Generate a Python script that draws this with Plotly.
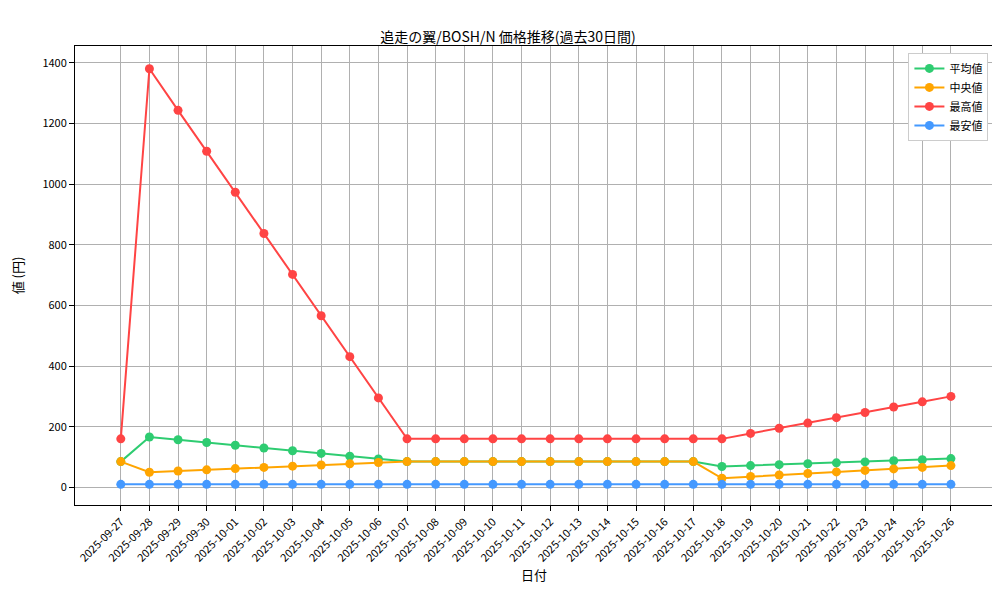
import plotly.graph_objects as go

dates = ["2025-09-27","2025-09-28","2025-09-29","2025-09-30","2025-10-01","2025-10-02","2025-10-03","2025-10-04","2025-10-05","2025-10-06","2025-10-07","2025-10-08","2025-10-09","2025-10-10","2025-10-11","2025-10-12","2025-10-13","2025-10-14","2025-10-15","2025-10-16","2025-10-17","2025-10-18","2025-10-19","2025-10-20","2025-10-21","2025-10-22","2025-10-23","2025-10-24","2025-10-25","2025-10-26"]
avg_vals = [85,166,157,148,139,130,121,112,103,94,85,85,85,85,85,85,85,85,85,85,85,69,72,75,78,81,84,88,91,95]
med_vals = [85,50,54,58,62,66,70,74,78,82,85,85,85,85,85,85,85,85,85,85,85,30,36,41,46,51,56,61,66,72]
max_vals = [160,1380,1243,1108,973,837,702,566,431,295,160,160,160,160,160,160,160,160,160,160,160,160,178,195,212,230,247,265,282,300]
min_vals = [10]*30

series = [("平均値", avg_vals, "#2ecc71"), ("中央値", med_vals, "#ffa500"),
          ("最高値", max_vals, "#ff4444"), ("最安値", min_vals, "#4499ff")]

fig = go.Figure()
for name, vals, col in series:
    fig.add_trace(go.Scatter(x=dates, y=vals, name=name, mode="lines+markers",
                             line=dict(color=col, width=2), marker=dict(size=9, color=col)))

ax = dict(showline=True, mirror=True, linecolor="black", linewidth=1, showgrid=True,
          gridcolor="#b0b0b0", ticks="outside", tickcolor="black", zeroline=False, automargin=False)
fig.update_layout(
    width=1000, height=600, plot_bgcolor="white", paper_bgcolor="white",
    font=dict(family="Noto Sans CJK JP", size=11, color="black"),
    title=dict(text="追走の翼/BOSH/N 価格推移(過去30日間)", x=0.5, y=0.96, xanchor="center", font=dict(size=14)),
    margin=dict(l=67, r=15, t=38, b=103),
    xaxis=dict(title=dict(text="日付", standoff=5), tickangle=-45, range=[-1.6, 30.47], type="category", **ax),
    yaxis=dict(title=dict(text="値 (円)"), range=[-58, 1455], dtick=200, **ax),
    legend=dict(x=0.995, y=0.985, xanchor="right", yanchor="top", bordercolor="#cccccc",
                borderwidth=1, bgcolor="white"),
)
fig.write_html("out.html")
